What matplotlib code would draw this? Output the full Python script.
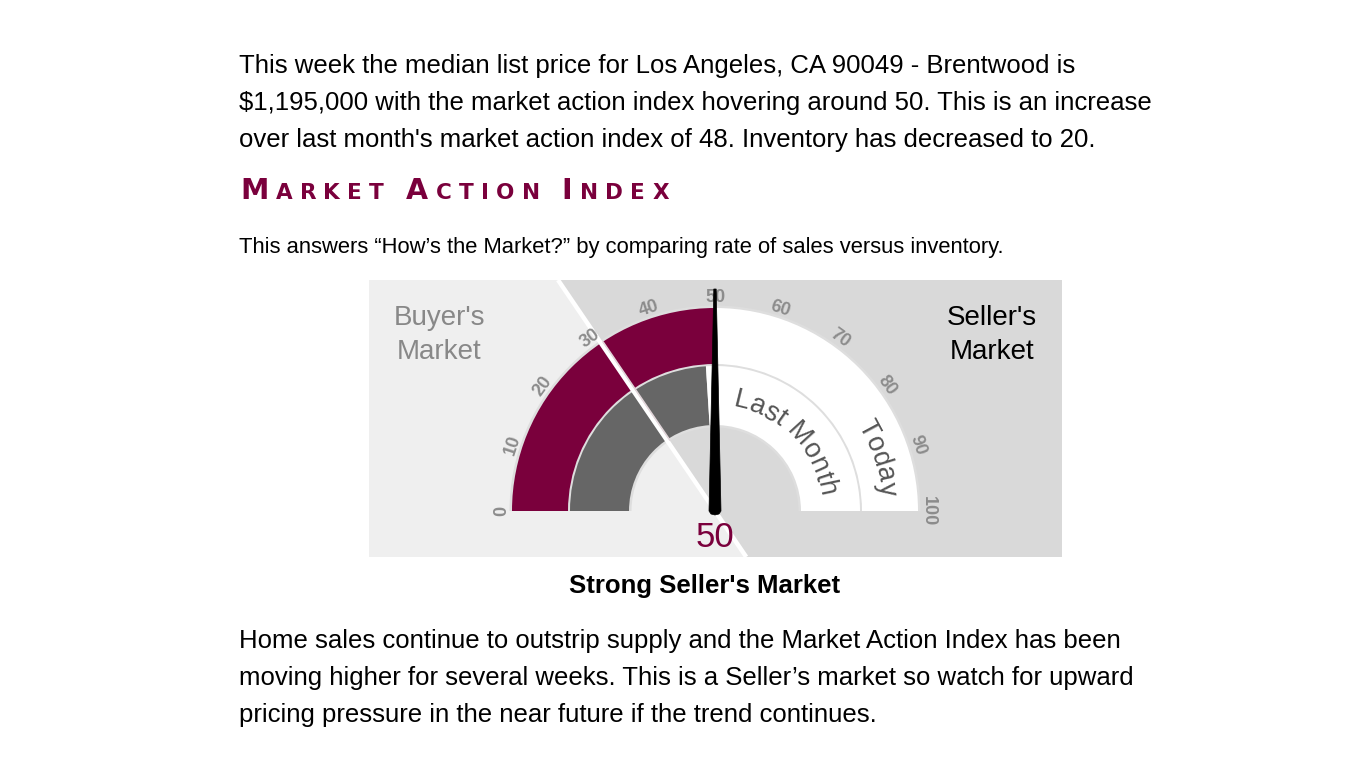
import matplotlib
matplotlib.use("Agg")
import matplotlib.pyplot as plt
import numpy as np
from matplotlib.patches import Wedge, Polygon

# --- data ---
TODAY = 50
LAST_MONTH = 48
TICKS = list(range(0, 101, 10))

INTRO_LINES = [
    "This week the median list price for Los Angeles, CA 90049 - Brentwood is",
    "$1,195,000 with the market action index hovering around 50. This is an increase",
    "over last month's market action index of 48. Inventory has decreased to 20.",
]
TITLE = "Market Action Index"
SUBTITLE = "This answers \u201cHow\u2019s the Market?\u201d by comparing rate of sales versus inventory."
VERDICT = "Strong Seller's Market"
OUTRO_LINES = [
    "Home sales continue to outstrip supply and the Market Action Index has been",
    "moving higher for several weeks. This is a Seller\u2019s market so watch for upward",
    "pricing pressure in the near future if the trend continues.",
]

MAROON = "#7a003c"
DARK_GRAY = "#666666"
TICK_GRAY = "#8c8c8c"
EDGE = "#dedede"
FONT = "Liberation Sans"

CX, CY = 715, 511
PANEL = (369, 1062, 280, 557)
SPLIT_DEG = 235.8

fig = plt.figure(figsize=(13.66, 7.68), dpi=100)
ax = fig.add_axes([0, 0, 1, 1])
ax.set_xlim(0, 1366)
ax.set_ylim(768, 0)
ax.axis("off")
renderer = fig.canvas.get_renderer()


def val_angle(v):
    return 180 + 1.8 * v


def advance(s, size, **kw):
    t1 = ax.text(0, 0, s + "|", fontsize=size, **kw)
    t2 = ax.text(0, 0, "|", fontsize=size, **kw)
    w = t1.get_window_extent(renderer).width - t2.get_window_extent(renderer).width
    t1.remove()
    t2.remove()
    return w


def small_caps(x, y, text, big, small, color, width):
    pieces = []
    for word in text.split():
        pieces.append((word[0], big))
        for ch in word[1:]:
            pieces.append((ch.upper(), small))
        pieces.append((" ", small))
    pieces.pop()
    style = dict(family="DejaVu Sans", weight="bold")
    widths = [advance(ch, s, **style) for ch, s in pieces]
    track = (width - sum(widths)) / (len(pieces) - 1)
    pos = x
    for (ch, s), w in zip(pieces, widths):
        ax.text(pos, y, ch, fontsize=s, color=color, ha="left",
                va="baseline", **style)
        pos += w + track


def arc_text(text, r, v_center, size, color):
    widths = [advance(ch, size, family=FONT) for ch in text]
    to_val = lambda px: px / r * 180 / np.pi / 1.8
    pos = v_center - to_val(sum(widths)) / 2
    for ch, w in zip(text, widths):
        vc = pos + to_val(w / 2)
        th = np.radians(val_angle(vc))
        ax.text(CX + r * np.cos(th), CY + r * np.sin(th), ch, fontsize=size,
                family=FONT, color=color, rotation=90 - 1.8 * vc,
                rotation_mode="anchor", ha="center", va="baseline", zorder=3)
        pos += to_val(w)


# --- text blocks ---
for i, line in enumerate(INTRO_LINES):
    ax.text(239, 73 + i * 37, line, fontsize=18.5, family=FONT, color="black",
            ha="left", va="baseline")

small_caps(240, 199, TITLE, 20.5, 15.5, MAROON, 429)

ax.text(239, 253, SUBTITLE, fontsize=15.85, family=FONT, color="black",
        ha="left", va="baseline")

ax.text(705, 593, VERDICT, fontsize=18.5, family=FONT, weight="bold",
        color="black", ha="center", va="baseline")

for i, line in enumerate(OUTRO_LINES):
    ax.text(239, 648 + i * 37, line, fontsize=18.5, family=FONT, color="black",
            ha="left", va="baseline")

# --- gauge background ---
x0, x1, y0, y1 = PANEL
sd = np.radians(SPLIT_DEG)
dx, dy = np.cos(sd), np.sin(sd)
x_top = CX + dx * (y0 - CY) / dy
x_bot = CX + dx * (y1 - CY) / dy
ax.add_patch(Polygon([(x0, y0), (x_top, y0), (x_bot, y1), (x0, y1)],
                     closed=True, facecolor="#efefef", edgecolor="none", zorder=0))
ax.add_patch(Polygon([(x_top, y0), (x1, y0), (x1, y1), (x_bot, y1)],
                     closed=True, facecolor="#d9d9d9", edgecolor="none", zorder=0))

# --- bands ---
bands = [(203, 56, TODAY, MAROON), (145, 59, LAST_MONTH, DARK_GRAY)]
for r, w, v, col in bands:
    ax.add_patch(Wedge((CX, CY), r + 2.5, 180, 360, width=w + 5,
                       facecolor=EDGE, edgecolor="none", zorder=1))
    ax.add_patch(Wedge((CX, CY), r, 180, val_angle(v), width=w,
                       facecolor=col, edgecolor="none", zorder=1.5))
    ax.add_patch(Wedge((CX, CY), r, val_angle(v), 360, width=w,
                       facecolor="white", edgecolor="none", zorder=1.5))

# split line across the panel
ax.plot([x_top, x_bot], [y0, y1], color="white", lw=3.2, zorder=2,
        solid_capstyle="butt")
ax.plot([CX + 86 * dx + 3, CX + 204 * dx + 3], [CY + 86 * dy, CY + 204 * dy],
        color="#e2d6da", lw=1.2, zorder=2.1)

# tick labels
for v in TICKS:
    th = np.radians(val_angle(v))
    ax.text(CX + 213 * np.cos(th), CY + 213 * np.sin(th), str(v), fontsize=13,
            family=FONT, weight="bold", color=TICK_GRAY, rotation=90 - 1.8 * v,
            rotation_mode="anchor", ha="center", va="center", zorder=3)

arc_text("Last Month", 106, 75.5, 19.5, "#555555")
arc_text("Today", 166, 90, 19.5, "#555555")

ax.text(439, 318, "Buyer's", fontsize=20, family=FONT, color="#888888",
        ha="center", va="center")
ax.text(439, 352, "Market", fontsize=20, family=FONT, color="#888888",
        ha="center", va="center")
ax.text(992, 318, "Seller's", fontsize=20, family=FONT, color="black",
        ha="center", va="center")
ax.text(992, 352, "Market", fontsize=20, family=FONT, color="black",
        ha="center", va="center")

# needle
na = np.radians(val_angle(TODAY))
d = np.array([np.cos(na), np.sin(na)])
p = np.array([-d[1], d[0]])
c = np.array([CX, CY])
pts = [c + 222 * d + 1.2 * p, c + 0 * d + 6 * p, c - 3 * d + 4 * p,
       c - 4 * d, c - 3 * d - 4 * p, c + 0 * d - 6 * p, c + 222 * d - 1.2 * p]
ax.add_patch(Polygon(pts, closed=True, facecolor="black", edgecolor="black",
                     lw=0.5, zorder=4))

ax.text(CX, 547, str(TODAY), fontsize=25, family=FONT, color=MAROON,
        ha="center", va="baseline", zorder=5)

fig.savefig("out.png", dpi=100)
